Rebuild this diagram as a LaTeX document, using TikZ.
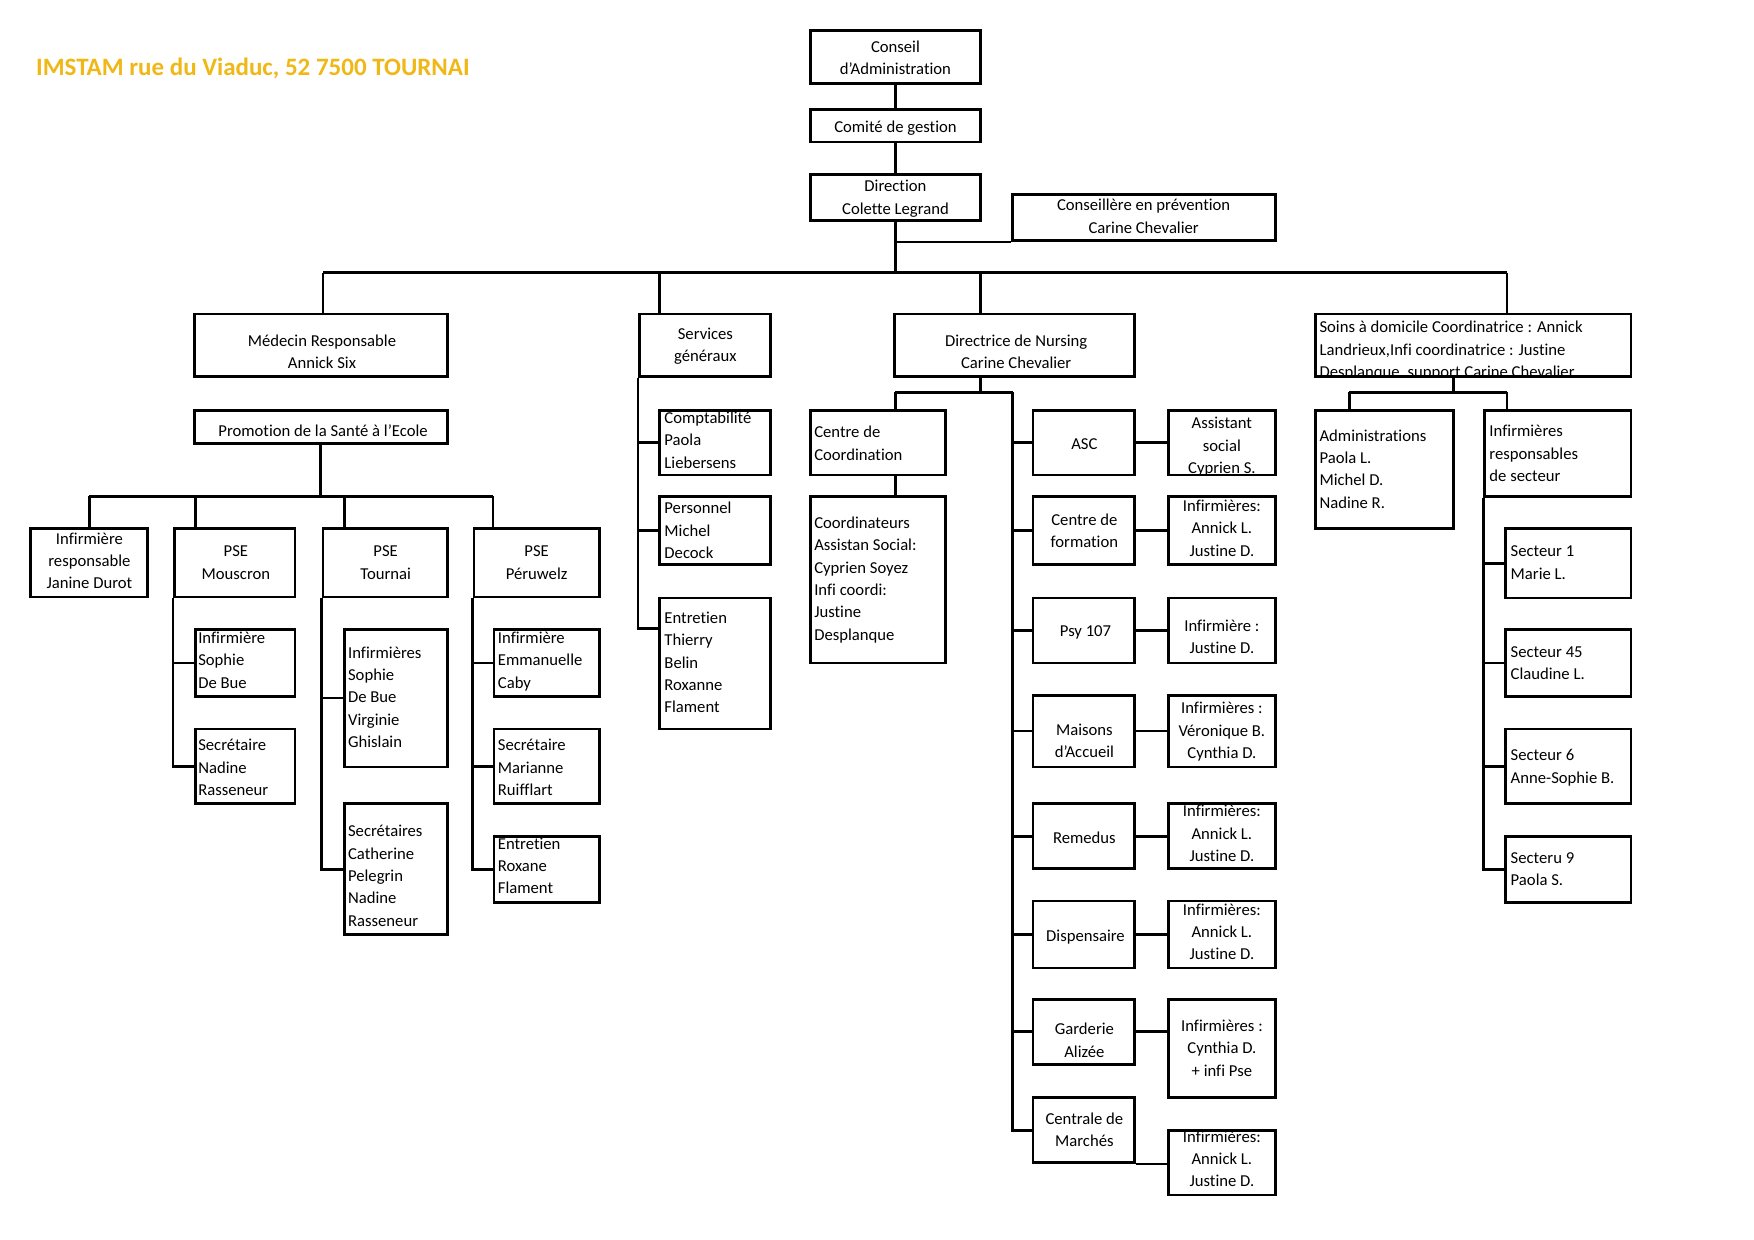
\documentclass[tikz,border=0pt]{standalone}
\usepackage{fontspec}
\setmainfont{Carlito}[Ligatures=NoCommon]
\usetikzlibrary{fit,calc}
\definecolor{titlecol}{RGB}{240,184,22}
\newcommand\tfont{\fontsize{8}{10.73}\selectfont}
\tikzset{
  box/.style={draw, line width=1.3pt, inner sep=0pt, rectangle},
  conn/.style={line width=1.3pt},
  thinconn/.style={line width=0.9pt},
  ctxt/.style={inner sep=0pt, anchor=north, align=center, font=\tfont, execute at begin node=\strut},
  ltxt/.style={inner sep=0pt, anchor=north west, align=left, font=\tfont, execute at begin node=\strut},
}
\newcommand\cbox[8]{\node[box,fit={(#2,#3)(#4,#5)}] (#1) {};\node[ctxt] (#1-t) at (#6,#7-5) {#8};}
\newcommand\lbox[8]{\node[box,fit={(#2,#3)(#4,#5)}] (#1) {};\node[ltxt] (#1-t) at (#6,#7-5) {#8};}
\begin{document}
\begin{tikzpicture}[x=0.5366pt,y=-0.5366pt]
\fill[white] (0,0) rectangle (1569,1109);
\useasboundingbox (0,0) rectangle (1569,1109);

\node[inner sep=0pt, anchor=west, font=\fontsize{12}{14}\selectfont\bfseries, text=titlecol] (title) at (32,61) {IMSTAM rue du Viaduc, 52 7500 TOURNAI};

% top
\cbox{conseil}{725}{27}{877}{75}{801}{41}{Conseil\\d'Administration}
\cbox{comite}{725}{98}{877}{127}{801}{109}{Comité de gestion}
\cbox{direction}{725}{156}{877}{197}{801}{166}{Direction\\Colette Legrand}
\cbox{consP}{906}{174}{1141}{215}{1023}{183}{Conseillère en prévention\\Carine Chevalier}

% level 1
\cbox{med}{174}{281}{400}{337}{288}{304}{Médecin Responsable\\Annick Six}
\cbox{sg}{572}{281}{689}{337}{631}{298}{Services\\généraux}
\cbox{dn}{800}{281}{1015}{337}{909}{304}{Directrice de Nursing\\Carine Chevalier}
\begin{scope}
\clip (1177,281) rectangle (1459,337);
\node[ltxt] (soins-t) at (1180,292-5) {Soins à domicile Coordinatrice : Annick\\Landrieux,Infi coordinatrice : Justine\\Desplanque, support Carine Chevalier};
\end{scope}
\node[box,fit={(1177,281)(1459,337)}] (soins) {};

% Medecin branch
\cbox{promo}{174}{367}{400}{397}{289}{381}{Promotion de la Santé à l'Ecole}
\cbox{ir}{27}{473}{132}{534}{80}{481}{Infirmière\\responsable\\Janine Durot}
\cbox{mou}{156}{473}{264}{534}{211}{493}{PSE\\Mouscron}
\cbox{tou}{289}{473}{400}{534}{345}{493}{PSE\\Tournai}
\cbox{per}{424}{473}{536}{534}{480}{493}{PSE\\Péruwelz}
\lbox{mouInf}{175}{563}{264}{623}{177}{570}{Infirmière\\Sophie\\De Bue}
\lbox{mouSec}{175}{652}{264}{719}{177}{666}{Secrétaire\\Nadine\\Rasseneur}
\lbox{touInf}{308}{563}{400}{686}{311}{583}{Infirmières\\Sophie\\De Bue\\Virginie\\Ghislain}
\lbox{touSec}{308}{719}{400}{836}{311}{743}{Secrétaires\\Catherine\\Pelegrin\\Nadine\\Rasseneur}
\lbox{perInf}{442}{563}{536}{623}{445}{570}{Infirmière\\Emmanuelle\\Caby}
\lbox{perSec}{442}{652}{536}{719}{445}{666}{Secrétaire\\Marianne\\Ruifflart}
\lbox{perEnt}{442}{748}{536}{807}{445}{754}{Entretien\\Roxane\\Flament}

% Services generaux
\lbox{sgCpt}{590}{367}{689}{425}{594}{373}{Comptabilité\\Paola\\Liebersens}
\lbox{sgPers}{590}{444}{689}{505}{594}{454}{Personnel\\Michel\\Decock}
\lbox{sgEnt}{590}{535}{689}{652}{594}{552}{Entretien\\Thierry\\Belin\\Roxanne\\Flament}

% Directrice de Nursing
\lbox{cc}{725}{367}{846}{425}{728}{386}{Centre de\\Coordination}
\lbox{coord}{725}{444}{846}{593}{728}{467}{Coordinateurs\\Assistan Social:\\Cyprien Soyez\\Infi coordi:\\Justine\\Desplanque}
\cbox{asc}{924}{367}{1015}{425}{970}{393}{ASC}
\cbox{asR}{1045}{367}{1141}{425}{1093}{378}{Assistant\\social\\Cyprien S.}
\cbox{cf}{924}{444}{1015}{505}{970}{464}{Centre de\\formation}
\cbox{cfR}{1045}{444}{1141}{505}{1093}{452}{Infirmières:\\Annick L.\\Justine D.}
\cbox{psy}{924}{535}{1015}{593}{971}{560}{Psy 107}
\cbox{psyR}{1045}{535}{1141}{593}{1093}{559}{Infirmière :\\Justine D.}
\cbox{ma}{924}{622}{1015}{686}{970}{652}{Maisons\\d'Accueil}
\cbox{maR}{1045}{622}{1141}{686}{1093}{633}{Infirmières :\\Véronique B.\\Cynthia D.}
\cbox{rem}{924}{719}{1015}{777}{970}{745}{Remedus}
\cbox{remR}{1045}{719}{1141}{777}{1093}{725}{Infirmières:\\Annick L.\\Justine D.}
\cbox{disp}{924}{806}{1015}{866}{971}{833}{Dispensaire}
\cbox{dispR}{1045}{806}{1141}{866}{1093}{813}{Infirmières:\\Annick L.\\Justine D.}
\cbox{gar}{924}{894}{1015}{952}{970}{920}{Garderie\\Alizée}
\cbox{garR}{1045}{894}{1141}{982}{1093}{917}{Infirmières :\\Cynthia D.\\+ infi Pse}
\cbox{cm}{924}{982}{1015}{1040}{970}{1000}{Centrale de\\Marchés}
\cbox{cmR}{1045}{1011}{1141}{1069}{1093}{1016}{Infirmières:\\Annick L.\\Justine D.}

% Soins a domicile
\lbox{adm}{1177}{367}{1300}{473}{1180}{389}{Administrations\\Paola L.\\Michel D.\\Nadine R.}
\lbox{irs}{1328}{367}{1459}{444}{1332}{385}{Infirmières\\responsables\\de secteur}
\lbox{s1}{1347}{473}{1459}{535}{1351}{493}{Secteur 1\\Marie L.}
\lbox{s45}{1347}{563}{1459}{623}{1351}{583}{Secteur 45\\Claudine L.}
\lbox{s6}{1347}{652}{1459}{719}{1351}{675}{Secteur 6\\Anne-Sophie B.}
\lbox{s9}{1347}{748}{1459}{807}{1351}{767}{Secteru 9\\Paola S.}

% ---------- connectors ----------
\draw[conn] (conseil.south) -- (comite.north);
\draw[conn] (comite.south) -- (direction.north);
\coordinate (bL) at (289,244);
\coordinate (bR) at (1348,244);
\coordinate (bSG) at (590,244);
\coordinate (bDN) at (877,244);
\draw[conn] (direction.south) -- (direction.south |- bL);
\draw[thinconn] (direction.south |- consP.south) -- (consP.south west);
\draw[conn] (bL) -- (bR);
\draw[conn] (bL) -- (bL |- med.north);
\draw[conn] (bSG) -- (bSG |- sg.north);
\draw[conn] (bDN) -- (bDN |- dn.north);
\draw[conn] (bR) -- (bR |- soins.north);

% Medecin branch
\coordinate (pL) at (80,444);
\coordinate (pR) at (441,444);
\coordinate (pMou) at (175,444);
\coordinate (pTou) at (308,444);
\draw[conn] (promo.south) -- (promo.south |- pL);
\draw[conn] (pL) -- (pR);
\draw[conn] (pL) -- (pL |- ir.north);
\draw[conn] (pMou) -- (pMou |- mou.north);
\draw[conn] (pTou) -- (pTou |- tou.north);
\draw[conn] (pR) -- (pR |- per.north);
\draw[conn] (mou.south west) |- (mouSec.west);
\draw[conn] (mou.south west |- mouInf.west) -- (mouInf.west);
\draw[conn] (tou.south west) |- (touSec.west);
\draw[conn] (tou.south west |- touInf.west) -- (touInf.west);
\draw[conn] (per.south west) |- (perEnt.west);
\draw[conn] (per.south west |- perInf.west) -- (perInf.west);
\draw[conn] (per.south west |- perSec.west) -- (perSec.west);

% Services generaux
\coordinate (entC) at ($(sgEnt.north west)!0.24!(sgEnt.south west)$);
\draw[conn] (sg.south west) |- (entC);
\draw[conn] (sg.south west |- sgCpt.west) -- (sgCpt.west);
\draw[conn] (sg.south west |- sgPers.west) -- (sgPers.west);

% Directrice
\coordinate (nL) at (801,351);
\coordinate (nR) at (906,351);
\draw[conn] (dn.south -| bDN) -- (bDN |- nL);
\draw[conn] (nL) -- (nR);
\draw[conn] (nL) -- (nL |- cc.north);
\draw[conn] (nL |- cc.south) -- (nL |- coord.north);
\draw[conn] (nR) |- (cm.west);
\foreach \n in {asc,cf,psy,ma,rem,disp,gar}{
  \draw[conn] (nR |- \n.west) -- (\n.west);
}
\draw[conn] (asc.east) -- (asR.west);
\draw[conn] (cf.east) -- (cfR.west);
\draw[conn] (psy.east) -- (psyR.west);
\draw[conn] (ma.east) -- (maR.west);
\draw[conn] (rem.east) -- (remR.west);
\draw[conn] (disp.east) -- (dispR.west);
\draw[conn] (gar.east) -- (gar.east -| garR.west);
\draw[conn] (cm.south east) -- (cm.south east -| cmR.west);

% Soins
\coordinate (sL) at (1207,351);
\coordinate (sR) at (1348,351);
\coordinate (sM) at (1300,351);
\draw[conn] (sM |- soins.south) -- (sM);
\draw[conn] (sL) -- (sR);
\draw[conn] (sL) -- (sL |- adm.north);
\draw[conn] (sR) -- (sR |- irs.north);
\draw[conn] (irs.south west) |- (s9.west);
\draw[conn] (irs.south west |- s1.west) -- (s1.west);
\draw[conn] (irs.south west |- s45.west) -- (s45.west);
\draw[conn] (irs.south west |- s6.west) -- (s6.west);
\end{tikzpicture}
\end{document}
